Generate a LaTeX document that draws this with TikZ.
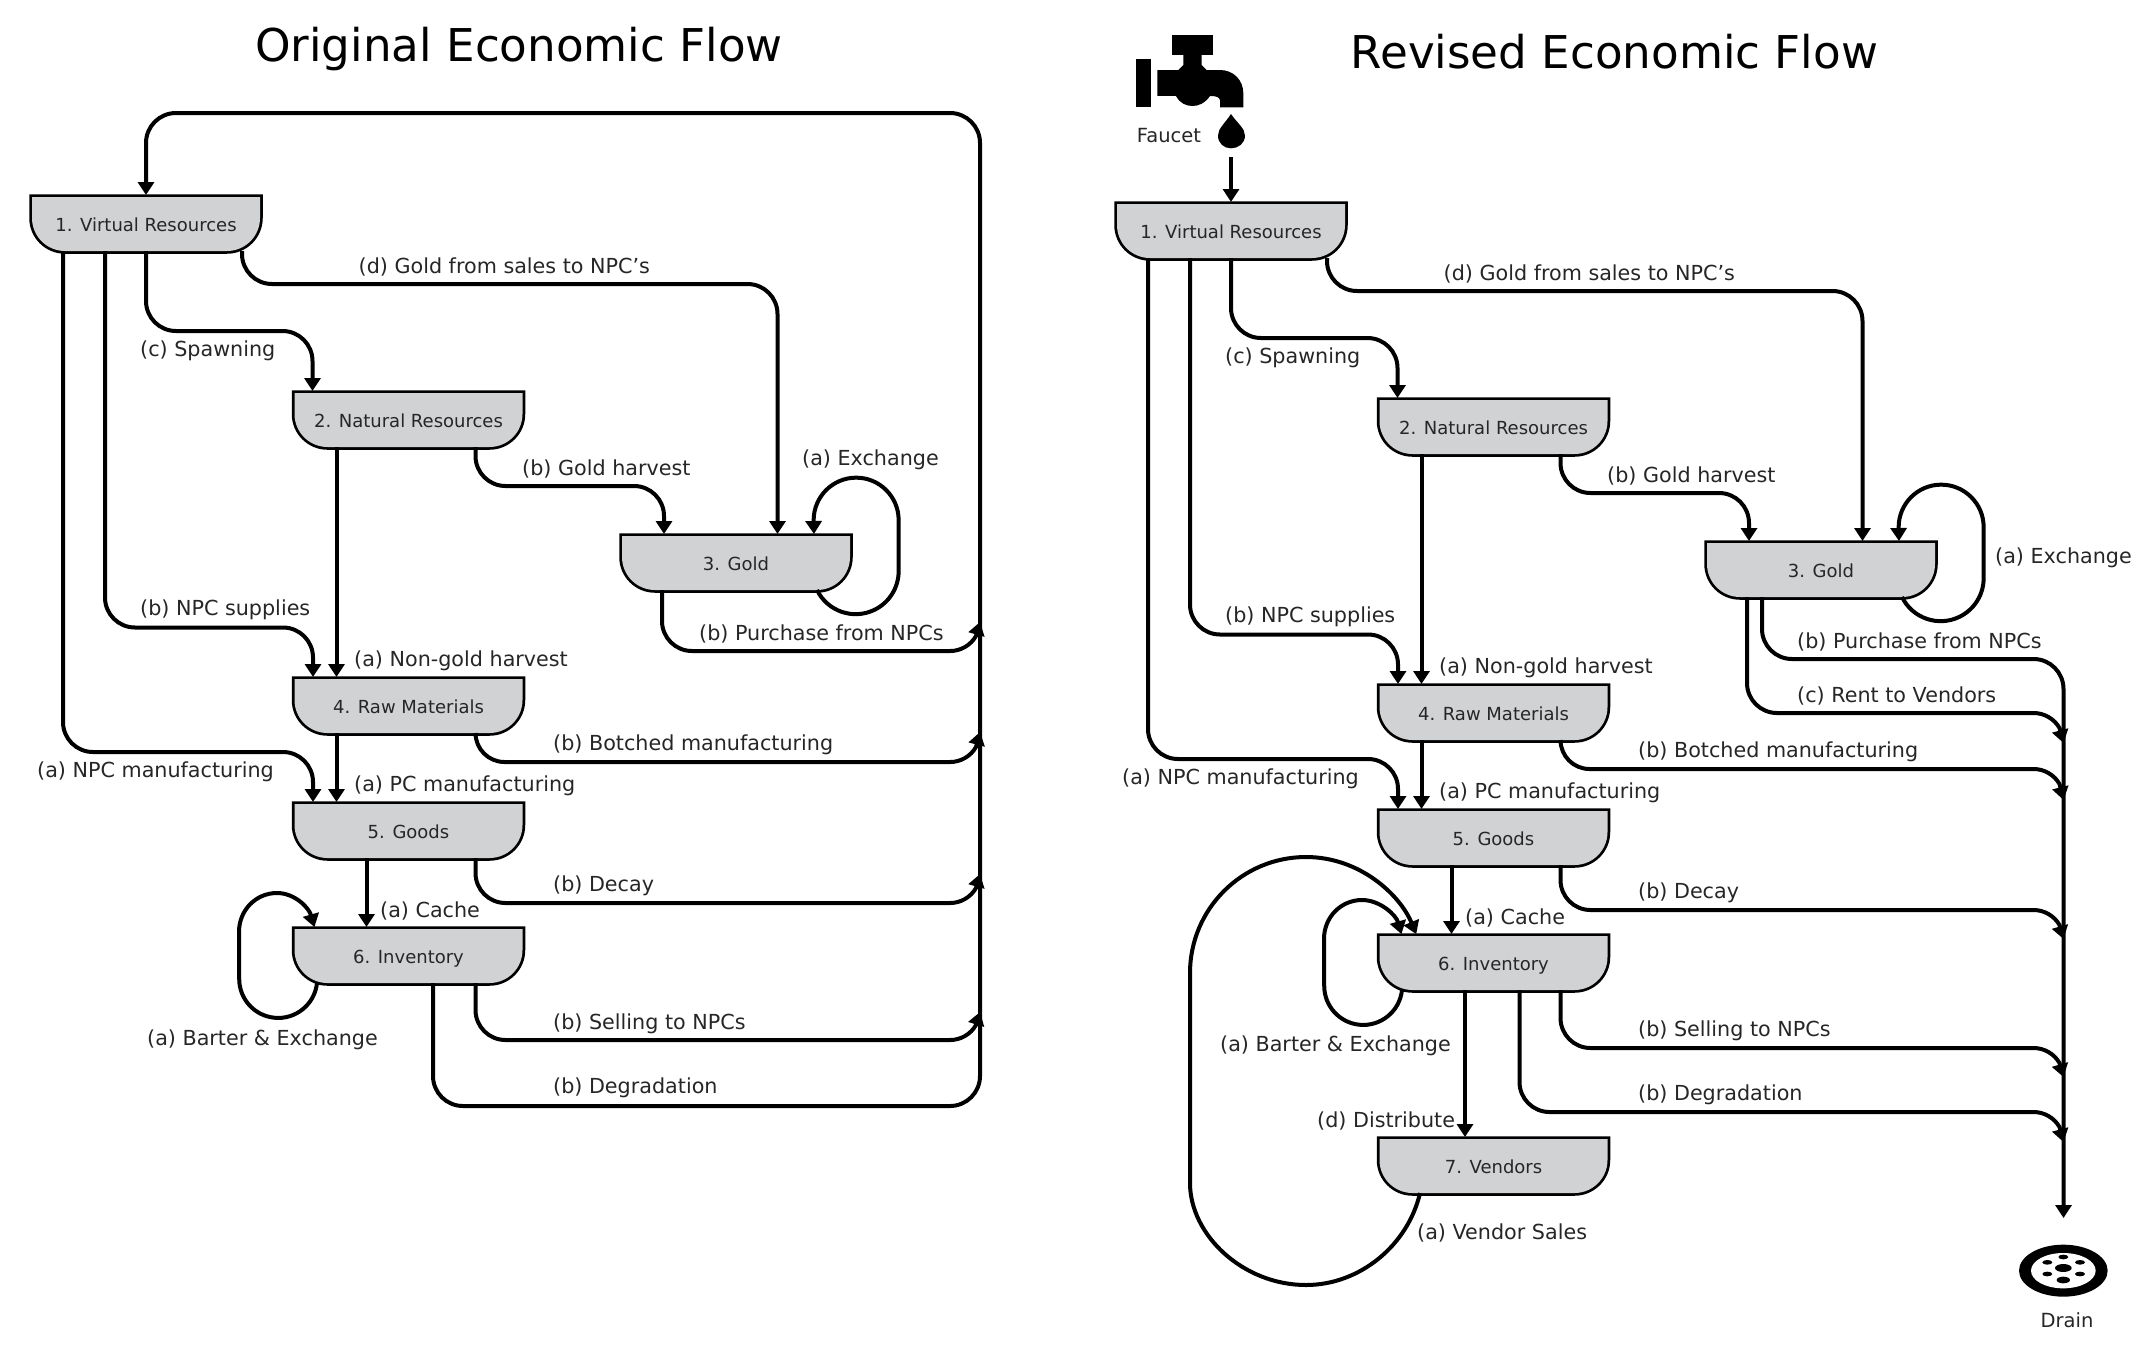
\documentclass[tikz,border=0pt]{standalone}
\usepackage{fontspec}
\setmainfont{DejaVu Sans}
\usetikzlibrary{arrows.meta, positioning}
\definecolor{bowlgray}{HTML}{D1D2D4}
\tikzset{
  bowl/.style={rectangle,outer sep=0pt,inner sep=0pt,minimum width=228pt,minimum height=54pt,
    text height=18pt,text depth=3pt,text=black!85,font=\fontsize{18}{22}\selectfont,
    path picture={\fill[bowlgray] (path picture bounding box.north west) [rounded corners=33pt] -- (path picture bounding box.south west) -- (path picture bounding box.south east) [sharp corners] -- (path picture bounding box.north east) -- cycle;},
    append after command={\pgfextra{\draw[line width=5.5pt,line join=miter] (\tikzlastnode.north west) [rounded corners=33pt] -- (\tikzlastnode.south west) -- (\tikzlastnode.south east) [sharp corners] -- (\tikzlastnode.north east) -- cycle;}}},
  flow/.style={line width=4pt,rounded corners=30pt,shorten >=2pt,-{Triangle[width=16pt,length=13pt]}},
  loopline/.style={line width=4pt,shorten >=2pt,-{Triangle[width=16pt,length=13pt]}},
  merge/.style={line width=4pt,-{Triangle[width=16pt,length=13pt]}},
  lbl/.style={anchor=west,inner sep=0pt,yshift=-1.5pt,text=black!85,font=\fontsize{20.7}{25}\selectfont},
  small/.style={inner sep=0pt,text=black!85,font=\fontsize{19.5}{23}\selectfont},
  ttl/.style={inner sep=0pt,font=\fontsize{45.2}{54}\selectfont}
}
\begin{document}
\begin{tikzpicture}[x=1pt,y=-1pt]
\useasboundingbox (0,0) rectangle (2153,1369);

\node[ttl] (title) at (519,49) {Original Economic Flow};
\node[bowl] (vr) at (146,224) {1. Virtual Resources};
\node[bowl, below right=142pt and 34.5pt of vr] (nr) {2. Natural Resources};
\node[bowl, below right=89pt and 99.5pt of nr] (gd) {3. Gold};
\node[bowl, below=232pt of nr] (rm) {4. Raw Materials};
\node[bowl, below=71pt of rm] (gs) {5. Goods};
\node[bowl, below=71pt of gs] (inv) {6. Inventory};
\coordinate (top) at (980,113);
\coordinate (m1) at (980,622);
\coordinate (m2) at (980,732);
\coordinate (m3) at (980,874);
\coordinate (m4) at (980,1012);

\draw[flow] ([xshift=31]vr.south west) -- ++(0,501) -| ([xshift=18.5]gs.north west);
\draw[flow] ([xshift=73]vr.south west) -- ++(0,376.5) -| ([xshift=18.5]rm.north west);
\draw[flow] (vr.south) -- ++(0,80) -| ([xshift=18]nr.north west);
\draw[flow] ([xshift=210]vr.south west) -- ++(0,33) -| ([xshift=155.5]gd.north west);
\draw[flow] ([xshift=181]nr.south west) -- ++(0,39) -| ([xshift=42]gd.north west);
\draw[flow] ([xshift=42]nr.south west) -- ([xshift=42]rm.north west);
\draw[flow] ([xshift=42]rm.south west) -- ([xshift=42]gs.north west);
\draw[flow] ([xshift=72]gs.south west) -- ([xshift=72]inv.north west);
\draw[merge] ([xshift=40]gd.south west) -- ++(0,31) arc[start angle=180,end angle=90,radius=30] -- (950,651) arc[start angle=90,end angle=30,radius=30] -- (m1);
\draw[merge] ([xshift=181]rm.south west) arc[start angle=180,end angle=90,radius=29] -- (950,762) arc[start angle=90,end angle=30,radius=30] -- (m2);
\draw[merge] ([xshift=181]gs.south west) -- ++(0,15) arc[start angle=180,end angle=90,radius=30] -- (950,903) arc[start angle=90,end angle=30,radius=30] -- (m3);
\draw[merge] ([xshift=181]inv.south west) -- ++(0,27) arc[start angle=180,end angle=90,radius=30] -- (950,1040) arc[start angle=90,end angle=30,radius=30] -- (m4);
\draw[flow] ([xshift=138.5]inv.south west) -- ++(0,123) -| (top) -| (vr.north);
\draw[loopline] ([xshift=195]gd.south west) arc[start angle=154,end angle=0,radius=43] -- ++(0,-51) arc[start angle=0,end angle=-180,radius=42.5] -- ([xshift=192]gd.north west);
\draw[loopline] ([xshift=22.5]inv.south west) arc[start angle=6,end angle=180,radius=39] -- (239,932) .. controls (239,910) and (256,893) .. (277,893) .. controls (295,893) and (309,908) .. ([xshift=20.5]inv.north west);

\node[lbl] (l1) at (358.5,265) {(d) Gold from sales to NPC’s};
\node[lbl] (l2) at (140,349) {(c) Spawning};
\node[lbl] (l3) at (522,467) {(b) Gold harvest};
\node[lbl] (l4) at (802,458) {(a) Exchange};
\node[lbl] (l5) at (699,632) {(b) Purchase from NPCs};
\node[lbl] (l6) at (140,608) {(b) NPC supplies};
\node[lbl] (l7) at (354,659) {(a) Non-gold harvest};
\node[lbl] (l8) at (553,743) {(b) Botched manufacturing};
\node[lbl] (l9) at (37,770) {(a) NPC manufacturing};
\node[lbl] (l10) at (354,784) {(a) PC manufacturing};
\node[lbl] (l11) at (553,884) {(b) Decay};
\node[lbl] (l12) at (380,909) {(a) Cache};
\node[lbl] (l13) at (553,1022) {(b) Selling to NPCs};
\node[lbl] (l14) at (147,1038) {(a) Barter \& Exchange};
\node[lbl] (l15) at (553,1086) {(b) Degradation};

\node[ttl] (title2) at (1614.5,52) {Revised Economic Flow};
\node[bowl] (vr2) at (1231,231) {1. Virtual Resources};
\node[bowl, below right=142pt and 34.5pt of vr2] (nr2) {2. Natural Resources};
\node[bowl, below right=89pt and 99.5pt of nr2] (gd2) {3. Gold};
\node[bowl, below=232pt of nr2] (rm2) {4. Raw Materials};
\node[bowl, below=71pt of rm2] (gs2) {5. Goods};
\node[bowl, below=71pt of gs2] (inv2) {6. Inventory};
\node[bowl, below=149pt of inv2] (vnd) {7. Vendors};
\coordinate (tap) at (1231,157);
\coordinate (dt) at (2063.5,1220);
\coordinate (d1) at (2063.5,743);
\coordinate (d2) at (2063.5,800);
\coordinate (d3) at (2063.5,939);
\coordinate (d4) at (2063.5,1077);
\coordinate (d5) at (2063.5,1142);

\draw[flow] (tap) -- (vr2.north);
\draw[flow] ([xshift=31]vr2.south west) -- ++(0,501) -| ([xshift=18.5]gs2.north west);
\draw[flow] ([xshift=73]vr2.south west) -- ++(0,376.5) -| ([xshift=18.5]rm2.north west);
\draw[flow] (vr2.south) -- ++(0,80) -| ([xshift=18]nr2.north west);
\draw[flow] ([xshift=210]vr2.south west) -- ++(0,33) -| ([xshift=155.5]gd2.north west);
\draw[flow] ([xshift=181]nr2.south west) -- ++(0,39) -| ([xshift=42]gd2.north west);
\draw[flow] ([xshift=42]nr2.south west) -- ([xshift=42]rm2.north west);
\draw[flow] ([xshift=42]rm2.south west) -- ([xshift=42]gs2.north west);
\draw[flow] ([xshift=72]gs2.south west) -- ([xshift=72]inv2.north west);
\draw[flow] ([xshift=55]gd2.south west) -- ++(0,62) -| (dt);
\draw[merge] ([xshift=40]gd2.south west) -- ++(0,86) arc[start angle=180,end angle=90,radius=30] -- (2033.5,713) arc[start angle=-90,end angle=-30,radius=30] -- (d1);
\draw[merge] ([xshift=181]rm2.south west) arc[start angle=180,end angle=90,radius=29] -- (2033.5,769) arc[start angle=-90,end angle=-30,radius=30] -- (d2);
\draw[merge] ([xshift=181]gs2.south west) -- ++(0,15) arc[start angle=180,end angle=90,radius=30] -- (2033.5,910) arc[start angle=-90,end angle=-30,radius=30] -- (d3);
\draw[merge] ([xshift=181]inv2.south west) -- ++(0,28) arc[start angle=180,end angle=90,radius=30] -- (2033.5,1048) arc[start angle=-90,end angle=-30,radius=30] -- (d4);
\draw[merge] ([xshift=140]inv2.south west) -- ++(0,92) arc[start angle=180,end angle=90,radius=30] -- (2033.5,1112) arc[start angle=-90,end angle=-30,radius=30] -- (d5);
\draw[flow] ([xshift=85.5]inv2.south west) -- ([xshift=85.5]vnd.north west);
\draw[loopline] ([xshift=195]gd2.south west) arc[start angle=154,end angle=0,radius=43] -- ++(0,-51) arc[start angle=0,end angle=-180,radius=42.5] -- ([xshift=192]gd2.north west);
\draw[loopline] ([xshift=22.5]inv2.south west) arc[start angle=6,end angle=180,radius=39] -- (1324,939) .. controls (1324,917) and (1341,900) .. (1362,900) .. controls (1380,900) and (1396,915) .. ([xshift=22.5]inv2.north west);
\draw[loopline] ([xshift=40.5]vnd.south west) .. controls (1408,1245) and (1360,1285) .. (1306,1285) .. controls (1243,1285) and (1190,1235) .. (1190,1183) -- (1190,973) .. controls (1190,909) and (1242,857) .. (1306,857) .. controls (1360,857) and (1400,895) .. ([xshift=37.5]inv2.north west);

\node[lbl] (r1) at (1443.5,272) {(d) Gold from sales to NPC’s};
\node[lbl] (r2) at (1225,356) {(c) Spawning};
\node[lbl] (r3) at (1607,474) {(b) Gold harvest};
\node[lbl] (r4) at (1995,556) {(a) Exchange};
\node[lbl] (r5) at (1797,640) {(b) Purchase from NPCs};
\node[lbl] (r6) at (1225,615) {(b) NPC supplies};
\node[lbl] (r7) at (1439,666) {(a) Non-gold harvest};
\node[lbl] (r8) at (1638,750) {(b) Botched manufacturing};
\node[lbl] (r9) at (1122,777) {(a) NPC manufacturing};
\node[lbl] (r10) at (1439,791) {(a) PC manufacturing};
\node[lbl] (r11) at (1638,891) {(b) Decay};
\node[lbl] (r12) at (1465,916) {(a) Cache};
\node[lbl] (r13) at (1638,1029) {(b) Selling to NPCs};
\node[lbl] (r14) at (1220,1044) {(a) Barter \& Exchange};
\node[lbl] (r15) at (1638,1093) {(b) Degradation};
\node[lbl] (r16) at (1797,694) {(c) Rent to Vendors};
\node[lbl] (r17) at (1317,1119) {(d) Distribute};
\node[lbl] (r18) at (1417,1231) {(a) Vendor Sales};
\node[small] (faucet) at (1169,135.5) {Faucet};
\node[small] (drain) at (2067,1320) {Drain};

\begin{scope}[shift={(1100,20)},scale=0.3333]
\fill (108,118) rectangle (152,262);
\fill (217,45) rectangle (340,105);
\fill (172,150) -- (235,150) -- (250,135) -- (250,105) -- (305,105) -- (305,135) -- (320,150) -- (360,150) .. controls (400,150) and (430,180) .. (430,220) -- (430,262) -- (360,262) -- (360,240) .. controls (358,232) and (350,228) .. (330,228) .. controls (315,250) and (295,258) .. (278,258) .. controls (258,258) and (240,250) .. (228,228) -- (172,228) -- cycle;
\fill (393,282) .. controls (375,310) and (354,325) .. (354,347) .. controls (354,370) and (372,385) .. (393,385) .. controls (415,385) and (435,370) .. (435,347) .. controls (435,325) and (412,310) .. (393,282) -- cycle;
\end{scope}

\begin{scope}[shift={(1980,1150)},scale=0.3333]
\fill (250,362) ellipse[x radius=133,y radius=78];
\fill[white] (250,362) ellipse[x radius=97,y radius=53];
\fill (250,354) ellipse[x radius=25,y radius=12];
\fill (250,390) ellipse[x radius=20,y radius=10];
\foreach \px/\py in {250/321,202/337,300/337,202/372,300/372}
  \fill (\px,\py) ellipse[x radius=15,y radius=7];
\end{scope}
\end{tikzpicture}
\end{document}
